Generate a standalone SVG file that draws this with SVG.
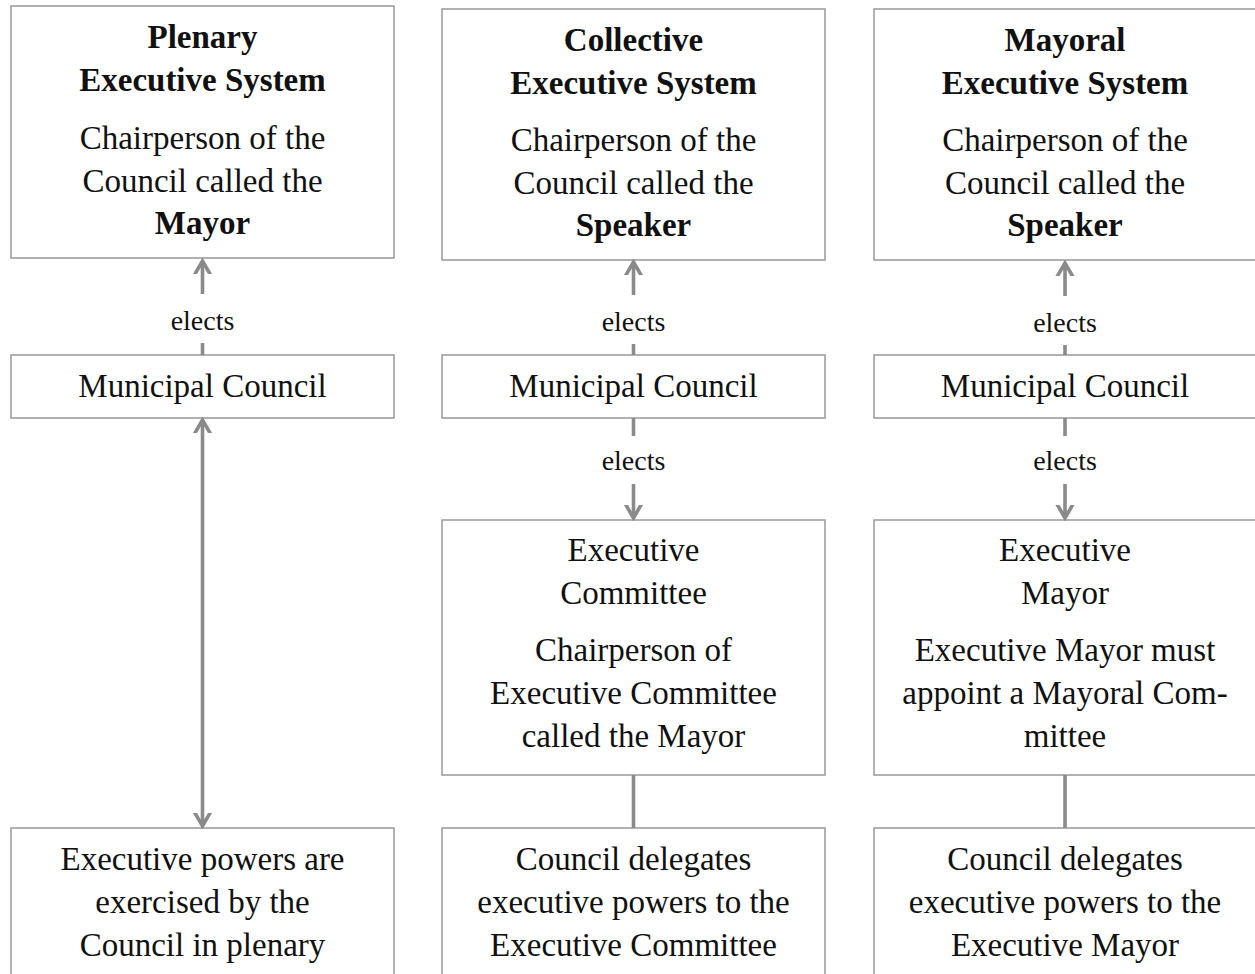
<svg xmlns="http://www.w3.org/2000/svg" width="1255" height="974" viewBox="0 0 1255 974">
  <style>
    .box { fill: #ffffff; stroke: #9e9e9e; stroke-width: 1.6; }
    .t { font-family: "Liberation Serif", "DejaVu Serif", serif; font-size: 33px; fill: #111111; text-anchor: middle; }
    .b { font-weight: bold; }
    .lbl { font-family: "Liberation Serif", "DejaVu Serif", serif; font-size: 28px; fill: #111111; text-anchor: middle; }
    .wire { stroke: #8a8a8a; stroke-width: 3.6; fill: none; }
  </style>
  <defs>
    <!-- open chevron arrowhead, tip at the line end -->
    <marker id="chev" viewBox="-3 -13 16 26" refX="10" refY="0" markerWidth="16" markerHeight="26" markerUnits="userSpaceOnUse" orient="auto-start-reverse">
      <path d="M-9,-11 L10,0 L-9,11" fill="none" stroke="#8a8a8a" stroke-width="3.6"/>
    </marker>
  </defs>
  <rect width="1255" height="974" fill="#ffffff"/>

  <!-- Column 1: plenary system -->
  <g id="plenary-head">
    <rect class="box" x="11" y="6" width="383" height="252"/>
    <text class="t b" x="202.5" y="48">Plenary</text>
    <text class="t b" x="202.5" y="91">Executive System</text>
    <text class="t" x="202.5" y="149">Chairperson of the</text>
    <text class="t" x="202.5" y="192">Council called the</text>
    <text class="t b" x="202.5" y="234">Mayor</text>
  </g>
  <g id="plenary-council">
    <rect class="box" x="11" y="355" width="383" height="63"/>
    <text class="t" x="202.5" y="397">Municipal Council</text>
  </g>
  <g id="plenary-powers">
    <rect class="box" x="11" y="828" width="383" height="160"/>
    <text class="t" x="202.5" y="870">Executive powers are</text>
    <text class="t" x="202.5" y="913">exercised by the</text>
    <text class="t" x="202.5" y="956">Council in plenary</text>
  </g>

  <!-- Column 2: collective system -->
  <g id="collective-head">
    <rect class="box" x="442" y="9" width="383" height="251"/>
    <text class="t b" x="633.5" y="51">Collective</text>
    <text class="t b" x="633.5" y="94">Executive System</text>
    <text class="t" x="633.5" y="151">Chairperson of the</text>
    <text class="t" x="633.5" y="194">Council called the</text>
    <text class="t b" x="633.5" y="236">Speaker</text>
  </g>
  <g id="collective-council">
    <rect class="box" x="442" y="355" width="383" height="63"/>
    <text class="t" x="633.5" y="397">Municipal Council</text>
  </g>
  <g id="collective-committee">
    <rect class="box" x="442" y="520" width="383" height="255"/>
    <text class="t" x="633.5" y="561">Executive</text>
    <text class="t" x="633.5" y="604">Committee</text>
    <text class="t" x="633.5" y="661">Chairperson of</text>
    <text class="t" x="633.5" y="704">Executive Committee</text>
    <text class="t" x="633.5" y="747">called the Mayor</text>
  </g>
  <g id="collective-powers">
    <rect class="box" x="442" y="828" width="383" height="160"/>
    <text class="t" x="633.5" y="870">Council delegates</text>
    <text class="t" x="633.5" y="913">executive powers to the</text>
    <text class="t" x="633.5" y="956">Executive Committee</text>
  </g>

  <!-- Column 3: mayoral system -->
  <g id="mayoral-head">
    <rect class="box" x="874" y="9" width="383" height="251"/>
    <text class="t b" x="1065" y="51">Mayoral</text>
    <text class="t b" x="1065" y="94">Executive System</text>
    <text class="t" x="1065" y="151">Chairperson of the</text>
    <text class="t" x="1065" y="194">Council called the</text>
    <text class="t b" x="1065" y="236">Speaker</text>
  </g>
  <g id="mayoral-council">
    <rect class="box" x="874" y="355" width="383" height="63"/>
    <text class="t" x="1065" y="397">Municipal Council</text>
  </g>
  <g id="mayoral-mayor">
    <rect class="box" x="874" y="520" width="383" height="255"/>
    <text class="t" x="1065" y="561">Executive</text>
    <text class="t" x="1065" y="604">Mayor</text>
    <text class="t" x="1065" y="661">Executive Mayor must</text>
    <text class="t" x="1065" y="704">appoint a Mayoral Com-</text>
    <text class="t" x="1065" y="747">mittee</text>
  </g>
  <g id="mayoral-powers">
    <rect class="box" x="874" y="828" width="383" height="160"/>
    <text class="t" x="1065" y="870">Council delegates</text>
    <text class="t" x="1065" y="913">executive powers to the</text>
    <text class="t" x="1065" y="956">Executive Mayor</text>
  </g>

  <!-- Connectors -->
  <g id="connectors">
    <!-- council elects chairperson -->
    <line class="wire" x1="202.5" y1="294" x2="202.5" y2="261" marker-end="url(#chev)"/>
    <line class="wire" x1="202.5" y1="343" x2="202.5" y2="355"/>
    <text class="lbl" x="202.5" y="330">elects</text>

    <line class="wire" x1="633.5" y1="295" x2="633.5" y2="262" marker-end="url(#chev)"/>
    <line class="wire" x1="633.5" y1="344" x2="633.5" y2="355"/>
    <text class="lbl" x="633.5" y="331">elects</text>

    <line class="wire" x1="1065" y1="296" x2="1065" y2="263" marker-end="url(#chev)"/>
    <line class="wire" x1="1065" y1="345" x2="1065" y2="355"/>
    <text class="lbl" x="1065" y="332">elects</text>

    <!-- council and plenary powers -->
    <line class="wire" x1="202.5" y1="420" x2="202.5" y2="826" marker-start="url(#chev)" marker-end="url(#chev)"/>

    <!-- council elects executive -->
    <line class="wire" x1="633.5" y1="418" x2="633.5" y2="436"/>
    <line class="wire" x1="633.5" y1="484" x2="633.5" y2="518" marker-end="url(#chev)"/>
    <text class="lbl" x="633.5" y="470">elects</text>

    <line class="wire" x1="1065" y1="418" x2="1065" y2="436"/>
    <line class="wire" x1="1065" y1="484" x2="1065" y2="518" marker-end="url(#chev)"/>
    <text class="lbl" x="1065" y="470">elects</text>

    <!-- executive linked to delegated powers -->
    <line class="wire" x1="633.5" y1="775" x2="633.5" y2="828"/>
    <line class="wire" x1="1065" y1="775" x2="1065" y2="828"/>
  </g>
</svg>
